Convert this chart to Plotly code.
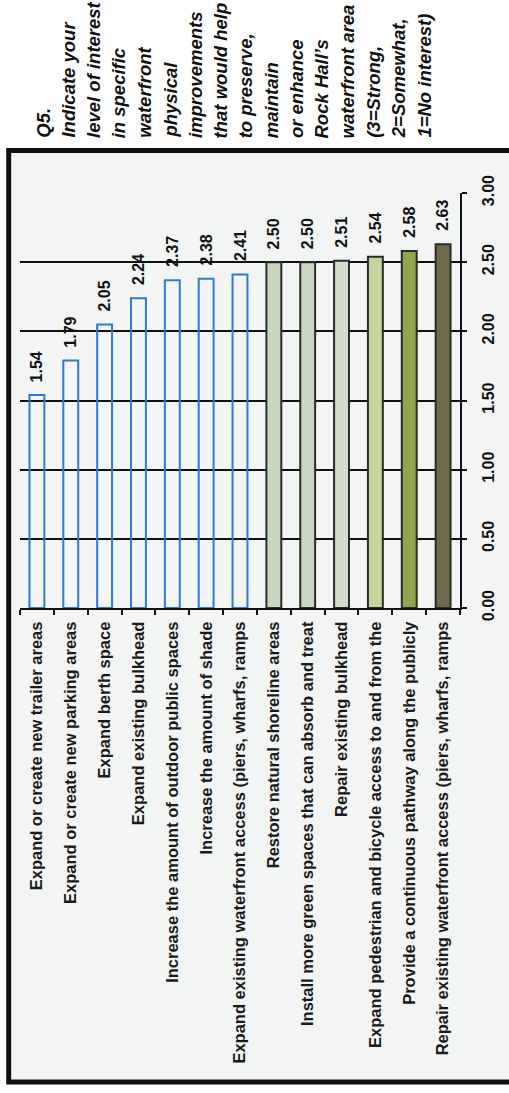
import plotly.graph_objects as go

# Survey items (Q5) and their mean interest scores
categories = [
    "Expand or create new trailer areas",
    "Expand or create new parking areas",
    "Expand berth space",
    "Expand existing bulkhead",
    "Increase the amount of outdoor public spaces",
    "Increase the amount of shade",
    "Expand existing waterfront access (piers, wharfs, ramps",
    "Restore natural shoreline areas",
    "Install more green spaces that can absorb and treat",
    "Repair existing bulkhead",
    "Expand pedestrian and bicycle access to and from the",
    "Provide a continuous pathway along the publicly",
    "Repair existing waterfront access (piers, wharfs, ramps",
]
scores = [1.54, 1.79, 2.05, 2.24, 2.37, 2.38, 2.41, 2.50, 2.50, 2.51, 2.54, 2.58, 2.63]

fill_colors = ["rgba(0,0,0,0)"] * 7 + [
    "#c8d5bf", "#c9d6c1", "#d2ddcb", "#c4d69e", "#8fa64c", "#6e6a4c"
]
line_colors = ["#2f79d2"] * 7 + ["#2b2b2b"] * 6

title_lines = [
    "Q5.",
    "Indicate your",
    "level of interest",
    "in specific",
    "waterfront",
    "physical",
    "improvements",
    "that would help",
    "to preserve,",
    "maintain",
    "or enhance",
    "Rock Hall\u2019s",
    "waterfront area",
    "(3=Strong,",
    "2=Somewhat,",
    "1=No interest)",
]

W, H = 509, 1093
L, R, T, B = 20, 42, 193, 485
FONT = "Liberation Sans, Arial, sans-serif"


def px_x(x):
    return (x - L) / (W - L - R)


def px_y(y):
    return (H - B - y) / (H - T - B)


fig = go.Figure(
    go.Bar(
        x=categories,
        y=scores,
        width=0.44,
        marker=dict(color=fill_colors, line=dict(color=line_colors, width=2)),
        hoverinfo="x+y",
    )
)

annotations = [
    dict(
        x=c, y=v, xref="x", yref="y",
        text=f"{v:.2f}", textangle=-90,
        showarrow=False, yanchor="bottom", xanchor="center", yshift=11,
        font=dict(family=FONT, size=16, color="#111111", weight="bold"),
    )
    for c, v in zip(categories, scores)
]

# Question text: one rotated column per line, starting just above the frame
for i, line in enumerate(title_lines):
    annotations.append(
        dict(
            x=px_x(43 + 25.8 * i), y=px_y(140), xref="paper", yref="paper",
            text=line, textangle=-90,
            showarrow=False, xanchor="center", yanchor="bottom",
            font=dict(family=FONT, size=18.5, color="#111111",
                      style="italic", weight="bold"),
        )
    )

fig.update_layout(
    width=W, height=H,
    margin=dict(l=L, r=R, t=T, b=B, pad=0),
    paper_bgcolor="white",
    plot_bgcolor="rgba(0,0,0,0)",
    showlegend=False,
    annotations=annotations,
    shapes=[
        dict(
            type="rect", xref="paper", yref="paper", layer="below",
            x0=px_x(8.5), x1=px_x(540), y0=px_y(1082), y1=px_y(150.5),
            line=dict(color="#111111", width=5), fillcolor="#f3f4f4",
        )
    ],
    xaxis=dict(
        type="category",
        tickangle=-90,
        tickson="boundaries",
        ticks="outside", ticklen=5, tickwidth=2, tickcolor="#111111",
        showline=True, linecolor="#111111", linewidth=2,
        showgrid=False,
        ticklabelstandoff=5,
        tickfont=dict(family=FONT, size=16.5, color="#1a1a1a", weight="bold"),
    ),
    yaxis=dict(
        range=[0, 3], dtick=0.5, tickformat=".2f",
        side="right", tickangle=-90,
        ticks="outside", ticklen=5, tickwidth=2, tickcolor="#111111",
        showline=True, linecolor="#111111", linewidth=2,
        showgrid=True, gridcolor="#111111", gridwidth=2,
        zeroline=False,
        ticklabelstandoff=8,
        tickfont=dict(family=FONT, size=16, color="#111111", weight="bold"),
    ),
    bargap=0.56,
)

fig.write_html("out.html")
